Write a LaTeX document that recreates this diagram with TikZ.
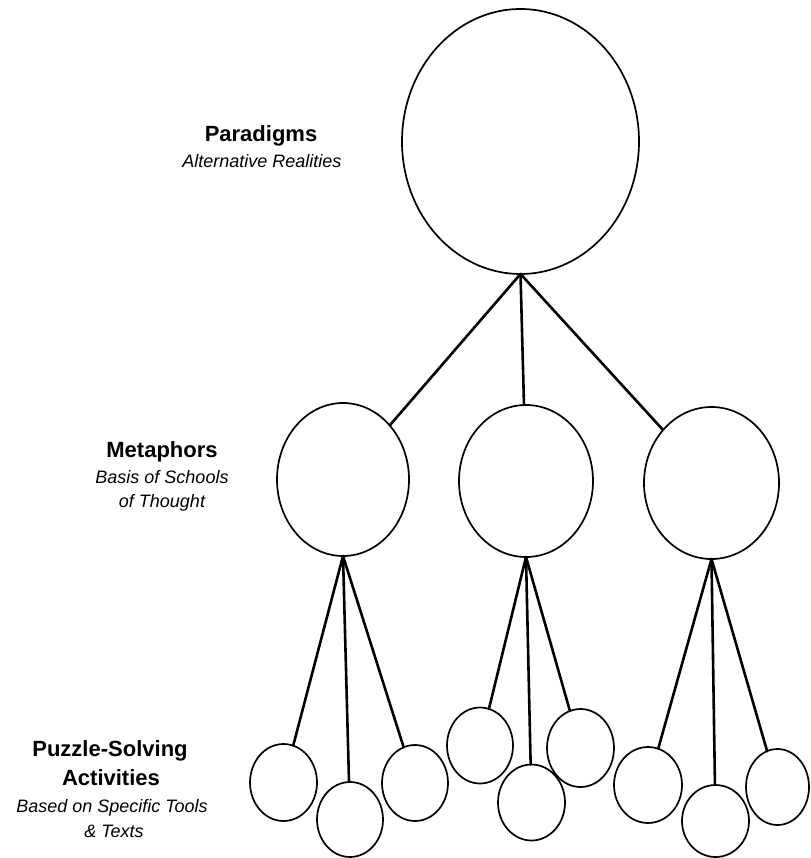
\documentclass[tikz,border=0pt]{standalone}
\usepackage{fontspec}
\setmainfont{Liberation Sans}
\usetikzlibrary{shapes.geometric}

\tikzset{
  bub/.style={ellipse, draw=black, line width=1.7pt, inner sep=0pt, outer sep=0pt, fill=none},
  link/.style={draw=black, line width=2.6pt, line cap=round},
  head/.style={anchor=base, inner sep=0pt, font=\fontsize{22}{26}\selectfont\bfseries},
  sub/.style={anchor=base, inner sep=0pt, font=\fontsize{18}{22}\selectfont\itshape},
}

\begin{document}
\begin{tikzpicture}[x=1pt,y=-1pt]
\useasboundingbox (0,0) rectangle (810,858);

% top level
\node[bub, minimum width=237pt, minimum height=265pt] (par) at (520.5,141.5) {};

% second level
\node[bub, minimum width=132pt, minimum height=153pt] (m1) at (343,479.5) {};
\node[bub, minimum width=134pt, minimum height=152pt] (m2) at (526,481) {};
\node[bub, minimum width=135pt, minimum height=152pt] (m3) at (711.5,483) {};

% third level
\node[bub, minimum width=67pt, minimum height=77pt] (p11) at (283.5,782.5) {};
\node[bub, minimum width=66pt, minimum height=75pt] (p12) at (350,819.5) {};
\node[bub, minimum width=66pt, minimum height=76pt] (p13) at (415,783) {};

\node[bub, minimum width=66pt, minimum height=76pt] (p21) at (480,745.5) {};
\node[bub, minimum width=67pt, minimum height=76pt] (p22) at (531.5,802.5) {};
\node[bub, minimum width=67pt, minimum height=78pt] (p23) at (580.5,748) {};

\node[bub, minimum width=68pt, minimum height=76pt] (p31) at (648,785) {};
\node[bub, minimum width=67pt, minimum height=72pt] (p32) at (715.5,821) {};
\node[bub, minimum width=63pt, minimum height=76pt] (p33) at (777.5,787) {};

% connectors
\foreach \c in {m1,m2,m3} \draw[link] (par.south) -- (\c);
\foreach \c in {p11,p12,p13} \draw[link] (m1.south) -- (\c);
\foreach \c in {p21,p22,p23} \draw[link] (m2.south) -- (\c);
\foreach \c in {p31,p32,p33} \draw[link] (m3.south) -- (\c);

% level labels
\node[head] (lpar) at (261,142) {Paradigms};
\node[sub]  (lpar2) at (262,168) {Alternative Realities};

\node[head] (lmet) at (162,457) {Metaphors};
\node[sub]  (lmet2) at (162,483) {Basis of Schools};
\node[sub]  (lmet3) at (162,507) {of Thought};

\node[head] (lpuz) at (110,756) {Puzzle-Solving};
\node[head] (lpuz2) at (111,785) {Activities};
\node[sub]  (lpuz3) at (112,812) {Based on Specific Tools};
\node[sub]  (lpuz4) at (114,837) {\& Texts};
\end{tikzpicture}
\end{document}
